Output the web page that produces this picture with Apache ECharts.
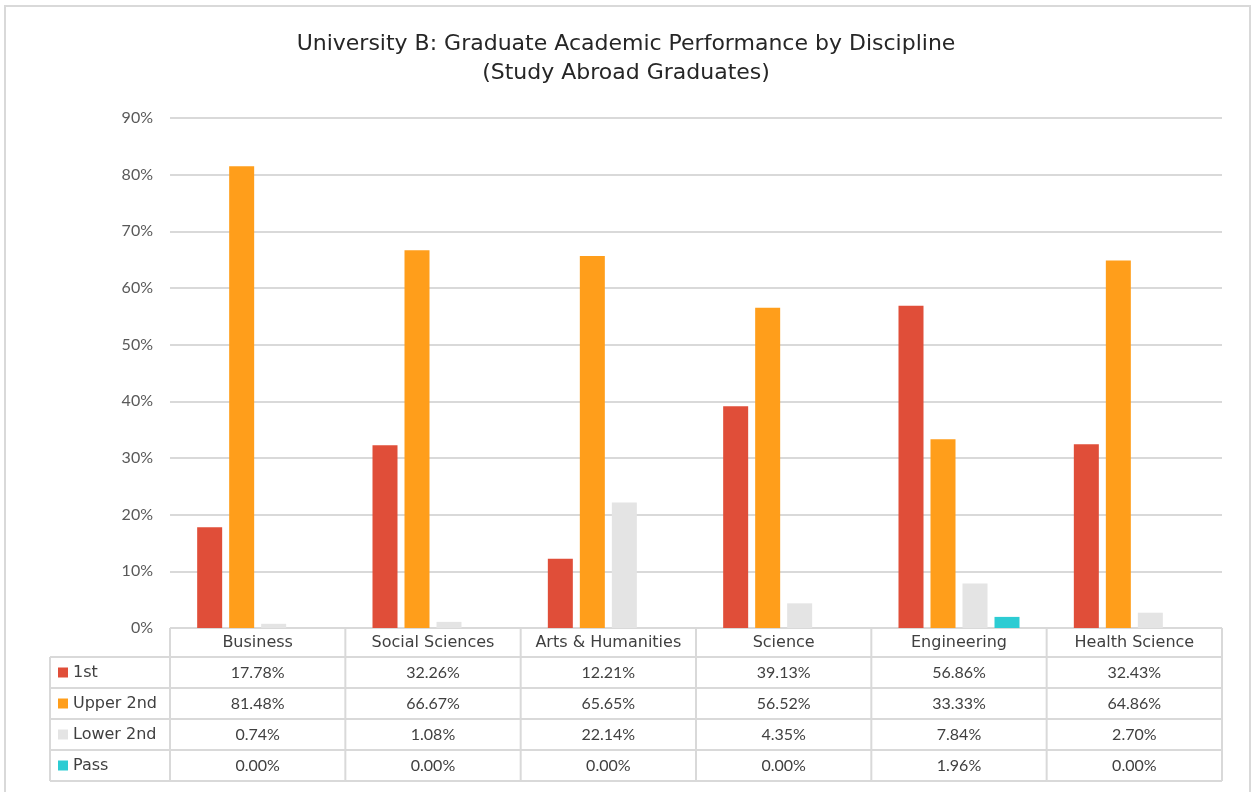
<!DOCTYPE html>
<html>
<head>
<meta charset="utf-8">
<title>University B</title>
<script src="https://cdn.jsdelivr.net/npm/echarts@6.0.0/dist/echarts.min.js"></script>
<style>
  html, body { margin: 0; padding: 0; background: #fff; }
  #main { width: 1252px; height: 792px; }
</style>
</head>
<body>
<div id="main"></div>
<script>
// data
var categories = ['Business', 'Social Sciences', 'Arts & Humanities', 'Science', 'Engineering', 'Health Science'];
var seriesNames = ['1st', 'Upper 2nd', 'Lower 2nd', 'Pass'];
var firstData = [17.78, 32.26, 12.21, 39.13, 56.86, 32.43];
var upper2ndData = [81.48, 66.67, 65.65, 56.52, 33.33, 64.86];
var lower2ndData = [0.74, 1.08, 22.14, 4.35, 7.84, 2.70];
var passData = [0.00, 0.00, 0.00, 0.00, 1.96, 0.00];
var colors = ['#E04E39', '#FF9E1B', '#E4E4E4', '#2DCCD3'];

var numFont = 'Lato, "Noto Sans", sans-serif';
var wordFont = '"DejaVu Sans", Lato, sans-serif';
var lineColor = '#D9D9D9';
var textColor = '#404040';

// plot / table layout (pixels)
var plotLeft = 170, plotRight = 1222, plotTop = 118, plotBottom = 628;
var tableLeft = 50;
var headerBottom = 657;
var rowH = 31;

var myChart = echarts.init(document.getElementById('main'));

function buildTable() {
    var els = [];
    var allData = [firstData, upper2ndData, lower2ndData, passData];
    var colW = (plotRight - plotLeft) / categories.length;
    var tableBottom = headerBottom + rowH * seriesNames.length;

    // outer frame of the chart
    els.push({
        type: 'rect',
        shape: { x: 5, y: 6, width: 1245, height: 820 },
        style: { fill: 'none', stroke: lineColor, lineWidth: 2 },
        silent: true
    });

    // horizontal lines
    els.push({ type: 'line', shape: { x1: plotLeft, y1: plotBottom, x2: plotRight, y2: plotBottom },
        style: { stroke: lineColor, lineWidth: 2 } });
    for (var r = 0; r <= seriesNames.length; r++) {
        var y = headerBottom + r * rowH;
        els.push({ type: 'line', shape: { x1: tableLeft, y1: y, x2: plotRight, y2: y },
            style: { stroke: lineColor, lineWidth: 2 } });
    }
    // vertical lines
    els.push({ type: 'line', shape: { x1: tableLeft, y1: headerBottom, x2: tableLeft, y2: tableBottom },
        style: { stroke: lineColor, lineWidth: 2 } });
    for (var c = 0; c <= categories.length; c++) {
        var x = plotLeft + c * colW;
        els.push({ type: 'line', shape: { x1: x, y1: plotBottom, x2: x, y2: tableBottom },
            style: { stroke: lineColor, lineWidth: 2 } });
    }

    // header (category names)
    categories.forEach(function (name, i) {
        els.push({
            type: 'text',
            x: plotLeft + (i + 0.5) * colW,
            y: (plotBottom + headerBottom) / 2,
            style: { text: name, fill: textColor, font: '16px ' + wordFont, align: 'center', verticalAlign: 'middle' }
        });
    });

    // rows: legend key + values
    seriesNames.forEach(function (name, r) {
        var cy = headerBottom + (r + 0.5) * rowH;
        els.push({
            type: 'rect',
            shape: { x: 58, y: cy - 5, width: 10, height: 10 },
            style: { fill: colors[r] }
        });
        els.push({
            type: 'text',
            x: 73,
            y: cy,
            style: { text: name, fill: textColor, font: '16px ' + wordFont, align: 'left', verticalAlign: 'middle' }
        });
        allData[r].forEach(function (v, i) {
            els.push({
                type: 'text',
                x: plotLeft + (i + 0.5) * colW,
                y: cy,
                style: { text: v.toFixed(2) + '%', fill: textColor, font: '16px ' + numFont, align: 'center', verticalAlign: 'middle' }
            });
        });
    });
    return els;
}

var option = {
    backgroundColor: '#fff',
    animation: false,
    title: {
        text: 'University B: Graduate Academic Performance by Discipline\n(Study Abroad Graduates)',
        left: 'center',
        top: 25,
        textStyle: {
            fontFamily: wordFont,
            fontWeight: 'normal',
            fontSize: 22,
            lineHeight: 29,
            color: '#262626'
        }
    },
    grid: {
        left: plotLeft,
        right: 1252 - plotRight,
        top: plotTop,
        bottom: 792 - plotBottom
    },
    xAxis: {
        type: 'category',
        data: categories,
        axisLine: { show: false },
        axisTick: { show: false },
        axisLabel: { show: false }
    },
    yAxis: {
        type: 'value',
        min: 0,
        max: 90,
        interval: 10,
        axisLine: { show: false },
        axisTick: { show: false },
        axisLabel: {
            formatter: '{value}%',
            color: '#595959',
            fontFamily: numFont,
            fontSize: 16,
            margin: 17
        },
        splitLine: { lineStyle: { color: lineColor, width: 2 } }
    },
    series: [
        { name: seriesNames[0], type: 'bar', data: firstData, barWidth: 25, barGap: '28%', itemStyle: { color: colors[0] } },
        { name: seriesNames[1], type: 'bar', data: upper2ndData, barWidth: 25, barGap: '28%', itemStyle: { color: colors[1] } },
        { name: seriesNames[2], type: 'bar', data: lower2ndData, barWidth: 25, barGap: '28%', itemStyle: { color: colors[2] } },
        { name: seriesNames[3], type: 'bar', data: passData, barWidth: 25, barGap: '28%', itemStyle: { color: colors[3] } }
    ],
    graphic: buildTable()
};

myChart.setOption(option);
</script>
</body>
</html>
